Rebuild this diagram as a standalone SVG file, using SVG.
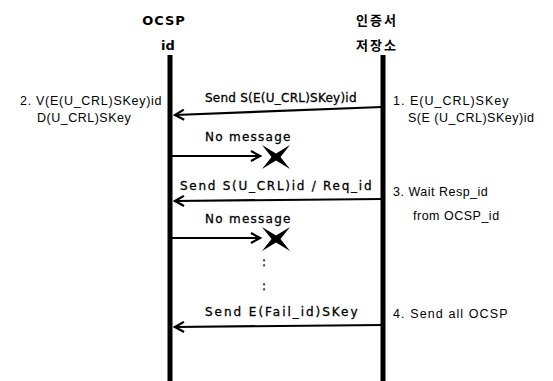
<svg xmlns="http://www.w3.org/2000/svg" width="553" height="381" viewBox="0 0 553 381">
<defs>
<style>
.hdr{font-family:"DejaVu Sans","Noto Sans CJK KR",sans-serif;font-weight:bold;font-size:13px;text-anchor:middle;fill:#000}
.msg{font-family:"DejaVu Sans",sans-serif;font-size:12px;fill:#000;stroke:#000;stroke-width:0.3;letter-spacing:0.5px}
.note{font-family:"Liberation Sans",Arial,sans-serif;font-size:12.5px;fill:#000;letter-spacing:0.5px}
.life{stroke:#000;stroke-width:5;fill:none}
.arr{stroke:#000;stroke-width:2.2;fill:none}
</style>
<marker id="ah" viewBox="0 0 12 12" refX="10" refY="6" markerWidth="12" markerHeight="12" markerUnits="userSpaceOnUse" orient="auto">
<path d="M1,1 L10,6 L1,11" fill="none" stroke="#000" stroke-width="2.2"/>
</marker>
<path id="xmark" d="M-14,-12 L0,-3.5 L14,-12 L4.5,0 L14,12 L0,3.5 L-14,12 L-4.5,0 Z" fill="#000"/>
</defs>
<rect width="553" height="381" fill="#fff"/>
<g id="ocsp">
<text class="hdr" x="164" y="25" letter-spacing="1">OCSP</text>
<text class="hdr" x="168" y="50">id</text>
<line class="life" x1="170" y1="55" x2="170" y2="381"/>
</g>
<g id="store">
<text class="hdr" x="377" y="25" letter-spacing="2">인증서</text>
<text class="hdr" x="377" y="50" letter-spacing="2">저장소</text>
<line class="life" x1="383" y1="55" x2="383" y2="381"/>
</g>
<g id="notes">
<text class="note" x="20" y="105" textLength="142">2. V(E(U_CRL)SKey)id</text>
<text class="note" x="37" y="122">D(U_CRL)SKey</text>
<text class="note" x="393" y="105" textLength="116">1. E(U_CRL)SKey</text>
<text class="note" x="408" y="122">S(E (U_CRL)SKey)id</text>
<text class="note" x="393" y="196">3. Wait Resp_id</text>
<text class="note" x="413" y="220">from OCSP_id</text>
<text class="note" x="393" y="318" textLength="115">4. Send all OCSP</text>
</g>
<g id="connectors">
<line class="arr" x1="382" y1="107" x2="175" y2="115" marker-end="url(#ah)"/>
<text class="msg" x="205" y="102" textLength="152">Send S(E(U_CRL)SKey)id</text>
<line class="arr" x1="172" y1="156" x2="260" y2="156" marker-end="url(#ah)"/>
<text class="msg" x="205" y="141" textLength="86">No message</text>
<use href="#xmark" x="276" y="157"/>
<line class="arr" x1="382" y1="199" x2="175" y2="201" marker-end="url(#ah)"/>
<text class="msg" x="180" y="190" textLength="192">Send S(U_CRL)id / Req_id</text>
<line class="arr" x1="172" y1="238" x2="260" y2="238" marker-end="url(#ah)"/>
<text class="msg" x="205" y="223" textLength="86">No message</text>
<use href="#xmark" x="276" y="239"/>
<text class="msg" x="262" y="266">:</text>
<text class="msg" x="262" y="290">:</text>
<line class="arr" x1="382" y1="325" x2="175" y2="327" marker-end="url(#ah)"/>
<text class="msg" x="205" y="316" textLength="153">Send E(Fail_id)SKey</text>
</g>
</svg>
